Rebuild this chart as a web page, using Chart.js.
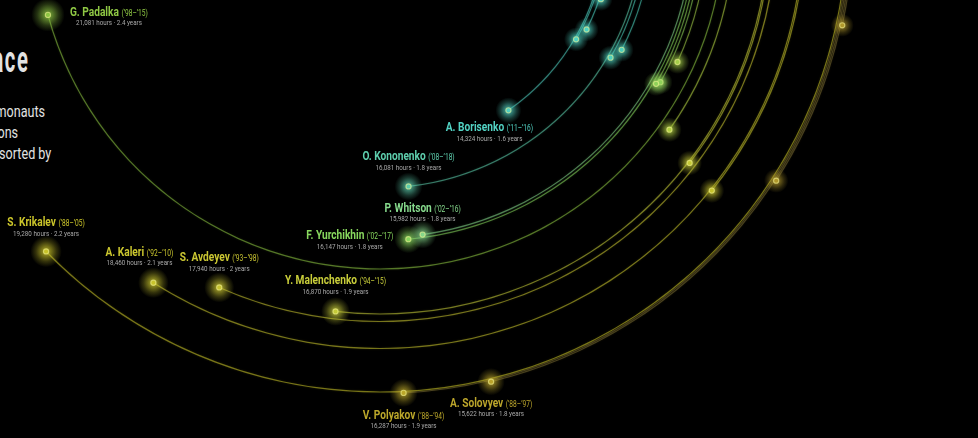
<!DOCTYPE html>
<html lang="en">
<head>
<meta charset="UTF-8">
<title>Most time in space</title>
<script src="https://cdn.jsdelivr.net/npm/chart.js"></script>
<style>
  html, body { margin: 0; padding: 0; background: #000; width: 978px; height: 438px; overflow: hidden; }
  #wrap { position: absolute; left: 0; top: -300px; width: 978px; height: 738px; }
  .t { position: absolute; color: #e2e2e2; font-family: Roboto, sans-serif; white-space: nowrap; line-height: 1; transform-origin: right center; }
  #title { right: 948px; top: 42px; font-size: 36px; font-weight: 700; transform: scaleX(0.56); letter-spacing: 3px; }
  .sub { font-size: 17px; transform: scaleX(0.74); }
</style>
</head>
<body>
<div class="t" id="title">Most time in space</div>
<div class="t sub" style="right:933px; top:103px">Astronauts and cosmonauts</div>
<div class="t sub" style="right:960px; top:124px">with the most time on missions</div>
<div class="t sub" style="right:927px; top:145px">in space, sorted by</div>
<div id="wrap"><canvas id="orbits" width="978" height="738"></canvas></div>

<script>
// labelled flyers
const names = ['G. Padalka', 'S. Krikalev', 'A. Kaleri', 'S. Avdeyev', 'Y. Malenchenko', 'F. Yurchikhin',
  'P. Whitson', 'O. Kononenko', 'A. Borisenko', 'V. Polyakov', 'A. Solovyev'];
const spans = ['(’98–’15)', '(’88–’05)', '(’92–’10)', '(’93–’98)', '(’94–’15)', '(’02–’17)',
  '(’02–’16)', '(’08–’18)', '(’11–’16)', '(’88–’94)', '(’88–’97)'];
const hours = [21081, 19280, 18460, 17940, 16870, 16147, 15982, 16081, 14324, 16287, 15622];
const years = ['2.4', '2.2', '2.1', '2', '1.9', '1.8', '1.8', '1.8', '1.6', '1.9', '1.8'];
// orbit slot = place in the first-flight order (0 = outermost ring)
const orbit = [86, 4, 33, 51, 56, 105, 107, 140, 165, 3, 2];

// flyers whose labels fall outside this crop
const otherHours = [11670, 12940, 13300, 13230, 13090, 12440, 12720, 12760, 12600, 12760, 12060, 12570, 12780];
const otherOrbit = [0, 1, 32, 55, 79, 97, 101, 103, 134, 138, 160, 161, 164];

// styles
const colors = ['#8fc844', '#cbc52a', '#cbc72e', '#cac632', '#c8cd3a', '#88d85e',
  '#86d98c', '#5ecfae', '#52d3c4', '#bca82a', '#bba52b'];
const otherColors = ['#b39a2c', '#b39a2c', '#c9c52e', '#c8cc36', '#b4d444', '#a6d24a', '#8fd35a',
  '#8fd35a', '#4fd3bf', '#4fd3bf', '#4fd6c6', '#4fd6c6', '#4fd6c6'];
// name anchor relative to the dot: dx, dy, alignment
const labelAt = [[22, 1, 'left'], [0, -25, 'center'], [-14, -27, 'center'], [0, -26, 'center'],
  [0, -27, 'center'], [-15, 0, 'right'], [0, -23, 'center'], [0, -26, 'center'],
  [-19, 21, 'center'], [0, 26, 'center'], [0, 25, 'center']];

const FULL_TURN = 22200;   // hours for one whole lap
const START = -87;         // lap start, degrees from 12 o'clock
const OUTER = 473;         // radius of orbit slot 0
const SLOT = 1.5;          // px between slots
const LINE = 1.2;          // ring thickness
const CX = 380, CY = -75;  // dial centre in page pixels
const SHIFT = 300;         // canvas is pushed up by this much
const W = 978, H = 738;
const SX = 0.78;           // condensed text

function fade(hex, a) {
  const n = parseInt(hex.slice(1), 16);
  return 'rgba(' + (n >> 16) + ',' + ((n >> 8) & 255) + ',' + (n & 255) + ',' + a + ')';
}
// older flyers get a duller, browner orbit
function ringColor(e) {
  return e.orbit < 4 ? 'rgba(150,134,70,0.42)' : fade(e.color, 0.55);
}

const all = [];
names.forEach((n, i) => all.push({ name: n, span: spans[i], hours: hours[i], years: years[i],
  orbit: orbit[i], color: colors[i], at: labelAt[i] }));
otherHours.forEach((h, i) => all.push({ hours: h, orbit: otherOrbit[i], color: otherColors[i] }));
all.sort((a, b) => a.orbit - b.orbit);

// one thin ring per flyer, transparent spacer rings in between
const datasets = [];
let edge = OUTER + LINE / 2;
all.forEach(e => {
  const top = OUTER - SLOT * e.orbit + LINE / 2;
  if (edge - top > 0.01) datasets.push({ data: [1], weight: edge - top, backgroundColor: 'rgba(0,0,0,0)', clip: false });
  datasets.push({ data: [e.hours, FULL_TURN - e.hours], weight: LINE, clip: false,
    backgroundColor: [ringColor(e), 'rgba(0,0,0,0)'] });
  e.ds = datasets.length - 1;
  edge = top - LINE;
});
datasets.push({ data: [1], weight: edge, backgroundColor: 'rgba(0,0,0,0)', clip: false });
const ringOf = {};
all.forEach(e => ringOf[e.ds] = e);

function textW(ctx, s, font) { ctx.font = font; return ctx.measureText(s).width * SX; }
function put(ctx, s, x, y, font, color) {
  ctx.save();
  ctx.font = font; ctx.fillStyle = color; ctx.textAlign = 'left'; ctx.textBaseline = 'alphabetic';
  ctx.translate(x, y); ctx.scale(SX, 1); ctx.fillText(s, 0, 0);
  ctx.restore();
}

const glow = {
  id: 'glow',
  beforeDatasetDraw(chart, args) {
    const e = ringOf[args.index];
    if (!e) return;
    chart.ctx.save();
    chart.ctx.shadowColor = fade(e.color, 0.35);
    chart.ctx.shadowBlur = 2;
  },
  afterDatasetDraw(chart, args) {
    if (ringOf[args.index]) chart.ctx.restore();
  },
  afterDatasetsDraw(chart) {
    const ctx = chart.ctx;
    all.forEach(e => {
      const arc = chart.getDatasetMeta(e.ds).data[0];
      const r = (arc.innerRadius + arc.outerRadius) / 2;
      const x = arc.x + Math.cos(arc.endAngle) * r;
      const y = arc.y + Math.sin(arc.endAngle) * r;
      e.px = x; e.py = y;
      const halo = 5 + e.hours / 1800;
      const g = ctx.createRadialGradient(x, y, 0, x, y, halo);
      g.addColorStop(0, fade(e.color, 0.9));
      g.addColorStop(0.35, fade(e.color, 0.55));
      g.addColorStop(0.65, fade(e.color, 0.25));
      g.addColorStop(1, fade(e.color, 0));
      ctx.fillStyle = g;
      ctx.beginPath(); ctx.arc(x, y, halo, 0, Math.PI * 2); ctx.fill();
      ctx.beginPath(); ctx.arc(x, y, 2.6, 0, Math.PI * 2);
      ctx.fillStyle = fade(e.color, 0.9); ctx.fill();
      ctx.lineWidth = 1.1; ctx.strokeStyle = 'rgba(245,245,150,0.6)'; ctx.stroke();
    });
    const fName = '700 13px Roboto', fSpan = '400 8.5px Roboto', fInfo = '400 8px Roboto';
    all.filter(e => e.name).forEach(e => {
      const [dx, dy, align] = e.at;
      const wn = textW(ctx, e.name, fName), ws = textW(ctx, e.span, fSpan);
      const total = wn + 2.5 + ws;
      const ax = e.px + dx, by = e.py + dy;
      let left = ax;
      if (align === 'center') left = ax - total / 2;
      if (align === 'right') left = ax - total;
      put(ctx, e.name, left, by, fName, e.color);
      put(ctx, e.span, left + wn + 2.5, by, fSpan, e.color);
      const info = e.hours.toLocaleString('en-US') + ' hours · ' + e.years + ' years';
      const wi = textW(ctx, info, fInfo);
      put(ctx, info, left + total / 2 - wi / 2, by + 9.5, fInfo, '#a9a9a9');
    });
  }
};

new Chart(document.getElementById('orbits'), {
  type: 'doughnut',
  data: { labels: ['time in space', 'rest of lap'], datasets: datasets },
  options: {
    responsive: false,
    animation: false,
    events: [],
    radius: OUTER + LINE / 2,
    cutout: 0,
    rotation: START,
    circumference: 360,
    layout: { padding: { left: 0, top: 0, right: W - 2 * CX, bottom: H - 2 * (CY + SHIFT) } },
    elements: { arc: { borderWidth: 0, offset: 0, hoverOffset: 0 } },
    plugins: { legend: { display: false }, tooltip: { enabled: false } }
  },
  plugins: [glow]
});
</script>
</body>
</html>
